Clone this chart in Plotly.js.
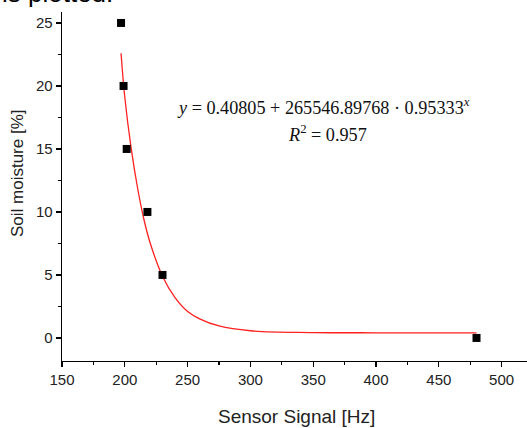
<!DOCTYPE html>
<html>
<head>
<meta charset="utf-8">
<script src="https://cdn.plot.ly/plotly-3.0.1.min.js"></script>
<style>html,body{margin:0;padding:0;background:#fff;}#chart{width:527px;height:428px;}</style>
</head>
<body>
<div id="chart"></div>
<script>
// Measured data points
var signalHz = [197, 199, 201.5, 218, 230, 480];
var moisture = [25, 20, 15, 10, 5, 0];

// Fitted curve
var fitX = [197, 200, 205, 210, 215, 220, 230, 240, 250, 260, 275, 300, 350, 400, 480];
var fitY = [22.6, 19.1, 15.1, 12.0, 9.5, 7.6, 4.9, 3.2, 2.1, 1.5, 0.95, 0.57, 0.43, 0.41, 0.41];

var xTicks = [150, 200, 250, 300, 350, 400, 450, 500];
var yTicks = [0, 5, 10, 15, 20, 25];

var xTitle = 'Sensor Signal [Hz]';
var yTitle = 'Soil moisture [%]';
var fitText = "<i>y</i> = 0.40805 + 265546.89768 · 0.95333<sup><i>x</i></sup>";
var r2Text = "<i>R</i><sup>2</sup> = 0.957";

var traces = [
  {x: fitX, y: fitY, mode: 'lines', type: 'scatter', line: {color: '#ff2020', width: 1.3, shape: 'spline', smoothing: 1}, hoverinfo: 'skip'},
  {x: signalHz, y: moisture, mode: 'markers', type: 'scatter', marker: {symbol: 'square', size: 8, color: '#000'}}
];

var axisCommon = {
  showgrid: false, zeroline: false, showline: true, linecolor: '#000', linewidth: 1.3,
  ticks: 'outside', ticklen: 5, tickwidth: 1.3, tickcolor: '#000',
  tickfont: {family: 'Liberation Sans, Arial, sans-serif', size: 15, color: '#222'}
};

var sans = 'Liberation Sans, Arial, sans-serif';

var layout = {
  width: 527, height: 428,
  margin: {l: 62, r: 0, t: 12, b: 67},
  paper_bgcolor: '#fff', plot_bgcolor: '#fff',
  showlegend: false,
  xaxis: Object.assign({}, axisCommon, {
    range: [150, 520.2], tickvals: xTicks, ticktext: xTicks.map(String),
    minor: {dtick: 25, tick0: 150, ticklen: 3, tickcolor: '#000', tickwidth: 1.2, ticks: 'outside'}
  }),
  yaxis: Object.assign({}, axisCommon, {
    range: [-1.83, 25.87], tickvals: yTicks, ticktext: yTicks.map(String),
    minor: {dtick: 2.5, tick0: 0, ticklen: 3, tickcolor: '#000', tickwidth: 1.2, ticks: 'outside'}
  }),
  annotations: [
    {xref: 'paper', yref: 'paper', x: 0.505, y: -0.16, xanchor: 'center', yanchor: 'middle',
     text: xTitle, showarrow: false, font: {family: sans, size: 19, color: '#222'}},
    {xref: 'paper', yref: 'paper', x: -0.0957, y: 0.540, xanchor: 'center', yanchor: 'middle', textangle: -90,
     text: yTitle, showarrow: false, font: {family: sans, size: 17, color: '#222'}},
    {xref: 'x', yref: 'y', x: 357.8, y: 18.4, text: fitText, showarrow: false,
     font: {family: 'Liberation Serif, serif', size: 18.2, color: '#111'}},
    {xref: 'x', yref: 'y', x: 361, y: 16.2, text: r2Text, showarrow: false,
     font: {family: 'Liberation Serif, serif', size: 18.2, color: '#111'}},
    {xref: 'paper', yref: 'paper', x: 0, xshift: -62, y: 1.0057, xanchor: 'left', yanchor: 'bottom',
     text: 'is plotted.', showarrow: false, font: {family: sans, size: 26, color: '#000'}}
  ]
};

Plotly.newPlot('chart', traces, layout, {staticPlot: true, displayModeBar: false});
</script>
</body>
</html>
